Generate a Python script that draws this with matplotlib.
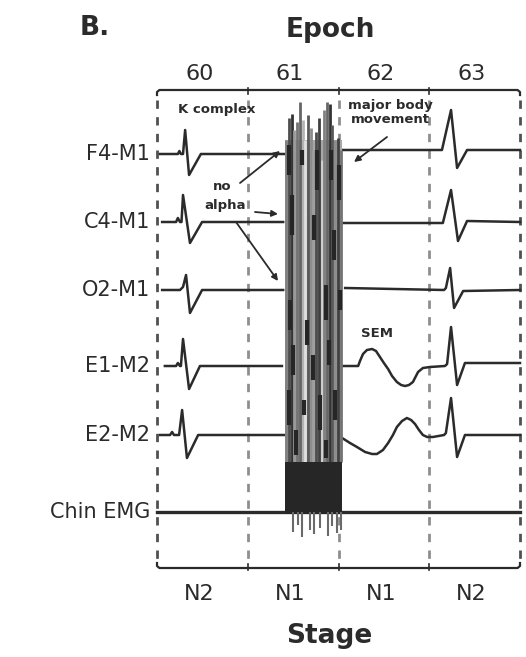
###importing libraries###
import matplotlib
matplotlib.use('Agg')
import matplotlib.pyplot as plt

plt.rcParams['font.family'] = ['DejaVu Sans']
plt.rcParams['lines.scale_dashes'] = False

###chart data###
epochs = [60, 61, 62, 63]
stages = ['N2', 'N1', 'N1', 'N2']
channels = ['F4-M1', 'C4-M1', 'O2-M1', 'E1-M2', 'E2-M2', 'Chin EMG']
epoch_len = 30  # seconds per epoch

# traces: time (s), deflection (up = positive)
# part 1 = before the body movement, part 2 = after it
f4_t1 = [1.0, 6.9, 7.4, 7.9, 8.6, 9.3, 10.6, 14.5, 42.3]
f4_a1 = [0, 0, 3, 0, 0, 24, -21, 0, 0]
f4_t2 = [61.2, 94.2, 97.2, 99.2, 102.5, 120.0]
f4_a2 = [4, 4, 44, -14, 4, 4]

c4_t1 = [1.7, 6.3, 6.9, 7.6, 8.1, 8.6, 10.9, 14.9, 41.7]
c4_a1 = [0, 0, 4, 0, 0, 27, -21, 0, 0]
c4_t2 = [61.5, 94.5, 97.2, 99.5, 102.5, 120.0]
c4_a2 = [-1, -1, 32, -19, 1, 0]

o2_t1 = [1.7, 7.6, 8.6, 9.6, 10.9, 14.9, 41.7]
o2_a1 = [0, 0, 3, 15, -23, 0, 0]
o2_t2 = [62.2, 94.9, 95.5, 96.9, 98.2, 101.2, 120.0]
o2_a2 = [2, 0, 2, 22, -18, -1, 0]

e1_t1 = [2.6, 6.3, 6.9, 7.6, 7.9, 8.6, 10.6, 14.2, 41.3]
e1_a1 = [0, 0, 3, 0, 0, 27, -23, 0, 0]
e1_t2 = [60.8, 66.5, 67.1, 68.1, 69.4, 71.1, 72.4, 73.7, 75.0, 76.4, 77.7, 79.3, 80.7,
         82.0, 83.3, 84.6, 86.3, 87.9, 90.2, 95.2, 95.9, 97.2, 99.2, 101.8, 120.0]
e1_a2 = [0, 0, 5, 12, 16, 17, 15, 9, 3, -3, -10, -16, -19,
         -20, -19, -16, -6, -2, -1, 0, 2, 39, -19, 3, 3]

e2_t1 = [1.0, 4.3, 5.0, 5.6, 7.3, 8.3, 9.9, 13.6, 42.0]
e2_a1 = [0, 0, 3, 0, 0, 25, -23, 0, 0]
e2_t2 = [61.2, 63.8, 66.1, 68.8, 71.1, 72.7, 74.7, 76.4, 78.0, 79.3, 81.0, 82.6,
         84.0, 85.3, 86.6, 87.9, 89.3, 91.2, 94.9, 95.5, 97.2, 99.2, 101.8, 120.0]
e2_a2 = [-3, -8, -12, -17, -19, -19, -15, -8, 0, 8, 14, 17,
         15, 11, 5, 0, -2, -2, 0, 2, 37, -22, 0, 0]

emg_t = [0.0, 120.0]
emg_a = [0, 0]

# movement artifact (epoch 61): time span and the vertical strokes of the smear
move_span = [42.3, 61.2]
stroke_t = [42.6, 43.6, 44.6, 45.4, 46.2, 47.2, 48.2, 49.0, 50.0, 50.8, 51.7,
            52.6, 53.5, 54.4, 55.3, 56.2, 57.1, 58.0, 58.9, 59.8, 60.7]
stroke_top = [140, 118, 114, 130, 122, 102, 120, 140, 115, 128, 150,
              132, 118, 160, 110, 102, 104, 125, 140, 138, 150]
stroke_shade = [0.5, 0.3, 0.2, 0.6, 0.45, 0.4, 0.7, 0.88, 0.35, 0.55, 0.62,
                0.3, 0.25, 0.82, 0.5, 0.4, 0.2, 0.35, 0.55, 0.25, 0.45]
clump_t = [43.5, 48.0, 53.0, 57.5, 60.0, 44.5, 52.0, 58.5, 44.0, 49.5, 56.0, 60.5,
           45.0, 51.5, 57.0, 43.5, 48.5, 54.0, 59.0, 46.0, 56.0]
clump_top = [145, 150, 150, 150, 165, 195, 215, 230, 300, 320, 285, 290,
             345, 355, 340, 390, 400, 395, 390, 430, 440]
clump_bot = [175, 165, 190, 180, 200, 235, 240, 260, 330, 345, 320, 310,
             375, 380, 365, 425, 415, 430, 420, 455, 458]
spike_t = [44.9, 46.5, 48.0, 50.6, 52.0, 53.9, 56.5, 58.0, 59.5, 60.8]
spike_end = [532, 525, 537, 530, 534, 528, 536, 526, 533, 530]

traces = [
    [(f4_t1, f4_a1), (f4_t2, f4_a2)],
    [(c4_t1, c4_a1), (c4_t2, c4_a2)],
    [(o2_t1, o2_a1), (o2_t2, o2_a2)],
    [(e1_t1, e1_a1), (e1_t2, e1_a2)],
    [(e2_t1, e2_a1), (e2_t2, e2_a2)],
    [(emg_t, emg_a)],
]

###layout###
W, H = 526, 657
X0, PX_PER_S = 157, 3.025
baselines = [154, 222, 290, 366, 435, 512]
top_y, bot_y = 90, 568
emg_top = 462
ink = '#2b2b2b'

fig = plt.figure(figsize=(W / 100, H / 100), dpi=100)
ax = fig.add_axes([0, 0, 1, 1])
ax.set_xlim(-X0 / PX_PER_S, (W - X0) / PX_PER_S)
ax.set_ylim(H, 0)
ax.axis('off')

ov = fig.add_axes([0, 0, 1, 1])
ov.set_xlim(0, W)
ov.set_ylim(H, 0)
ov.axis('off')
ov.patch.set_alpha(0)

#epoch boundaries: dashed lines and brackets
bounds = [i * epoch_len for i in range(len(epochs) + 1)]
for i, b in enumerate(bounds):
    outer = i in (0, len(bounds) - 1)
    ax.plot([b, b], [100, 560], color='#505050' if outer else '#8e8e8e',
            lw=2.0, dashes=(6, 6), zorder=1)
for y, d in [(top_y, 1), (bot_y, -1)]:
    ax.plot([bounds[0], bounds[0], 0.8, bounds[-1] - 0.8, bounds[-1], bounds[-1]],
            [y + 5 * d, y + 2 * d, y, y, y + 2 * d, y + 5 * d],
            color=ink, lw=1.6, zorder=3, solid_joinstyle='round')
    for b in bounds[1:-1]:
        ax.plot([b, b], [y - 2 * d, y + 4 * d], color=ink, lw=1.2, zorder=3)

#traces
for base, parts in zip(baselines, traces):
    for t, a in parts:
        ax.plot(t, [base - v for v in a], color=ink,
                lw=2.4 if base == baselines[-1] else 1.8, zorder=2,
                solid_joinstyle='round')

#movement artifact
ax.fill_between(move_span, 140, emg_top, color='0.66', lw=0, zorder=3)
ax.vlines(stroke_t, stroke_top, emg_top, colors=[str(s) for s in stroke_shade],
          lw=2.0, zorder=3)
ax.vlines(clump_t, clump_top, clump_bot, colors='#262626', lw=3.0, zorder=3)
ax.fill_between(move_span, emg_top, baselines[-1] + 2, color='#262626', lw=0, zorder=3)
ax.vlines(spike_t, baselines[-1], spike_end, colors='#6a6a6a', lw=1.5, zorder=3)

#labels
for name, base in zip(channels, baselines):
    ov.text(150, base, name, ha='right', va='center', fontsize=15, color=ink)
for i, (ep, st) in enumerate(zip(epochs, stages)):
    c = i * epoch_len + epoch_len / 2 - 1
    ax.text(c, 80, str(ep), ha='center', va='baseline', fontsize=16, color=ink)
    ax.text(c, 600, st, ha='center', va='baseline', fontsize=16, color=ink)
ov.text(95, 35, 'B.', ha='center', va='baseline', fontsize=19, fontweight='bold', color=ink)
ov.text(330, 37, 'Epoch', ha='center', va='baseline', fontsize=19, fontweight='bold', color=ink)
ov.text(329, 643, 'Stage', ha='center', va='baseline', fontsize=19, fontweight='bold', color=ink)

#annotations
small = dict(ha='center', va='baseline', fontsize=9.5, fontweight='bold', color=ink)
ov.text(217, 113, 'K complex', **small)
ov.text(390, 109, 'major body', **small)
ov.text(390, 123, 'movement', **small)
ov.text(222, 190, 'no', **small)
ov.text(225, 209, 'alpha', **small)
ov.text(377, 337, 'SEM', **small)
arrow = dict(arrowstyle='-|>', color=ink, lw=1.3, mutation_scale=9, shrinkA=0, shrinkB=0)
for tail, head in [((240, 183), (280, 151)), ((255, 212), (278, 214)),
                   ((236, 222), (278, 281)), ((387, 137), (354, 162))]:
    ov.annotate('', xy=head, xytext=tail, arrowprops=arrow, zorder=5)

fig.savefig('out.png', dpi=100)
